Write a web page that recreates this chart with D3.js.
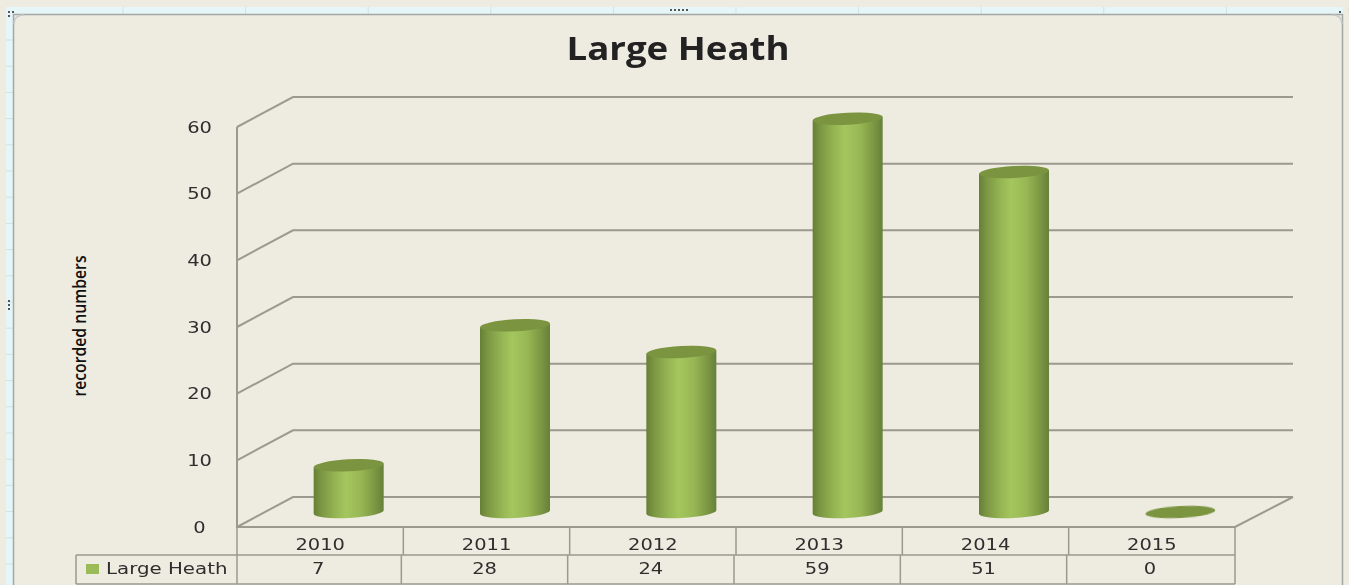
<!DOCTYPE html>
<html><head><meta charset="utf-8">
<script src="https://cdn.jsdelivr.net/npm/d3@7"></script>
<style>html,body{margin:0;padding:0;background:#eeebe0;overflow:hidden}svg{display:block}</style>
</head><body><svg id="c" width="1349" height="585"></svg>
<script>
const years = ["2010","2011","2012","2013","2014","2015"];
const counts = [7,28,24,59,51,0];
const yTicks = [0,10,20,30,40,50,60];
const seriesName = "Large Heath";
const chartTitle = "Large Heath";
const yTitle = "recorded numbers";

const W=1349,H=585;
const svg=d3.select("#c");
const beige="#eeebe0", line="#9c998e", dark="#2e2e2e";
const depth={x:56,y:-30};
const x=d3.scaleBand().domain(years).range([237,1235]);
const y=d3.scaleLinear().domain([0,60]).range([527,127]);
const rx=35, ry=6, tilt=-3, lift=rx*Math.sin(-tilt*Math.PI/180);
const midDepth={x:28.5,y:-15};
const stretch=1.18;

const defs=svg.append("defs");
const g=defs.append("linearGradient").attr("id","cyl");
[[0,"#667f36"],[0.1,"#7a9542"],[0.3,"#94b452"],[0.46,"#a4c65e"],[0.68,"#97b754"],[0.86,"#7e9944"],[1,"#66803a"]]
 .forEach(s=>g.append("stop").attr("offset",s[0]).attr("stop-color",s[1]));
const soft=defs.append("filter").attr("id","soft");
soft.append("feGaussianBlur").attr("stdDeviation",0.6);
const softT=defs.append("filter").attr("id","softT");
softT.append("feGaussianBlur").attr("stdDeviation",0.35);

// window chrome
svg.append("rect").attr("width",W).attr("height",H).attr("fill",beige);
svg.append("path").attr("d","M6,585V7H1343V14H13V585Z").attr("fill","#e6f6f8");
const chrome=svg.append("g").attr("stroke","#d6dfdf").attr("stroke-width",1);
d3.range(0,11).forEach(i=>{const v=123+i*122.6;chrome.append("line").attr("x1",v).attr("x2",v).attr("y1",7).attr("y2",14);});
d3.range(0,21).forEach(i=>{const v=40+i*26.2;chrome.append("line").attr("x1",6).attr("x2",13).attr("y1",v).attr("y2",v);});
svg.append("path").attr("d","M13.5,585V14.5H1342.5V585").attr("fill","none").attr("stroke","#a3a7a5").attr("stroke-width",1.5);
svg.append("path").attr("d","M14,24Q14,15 24,15").attr("fill","none").attr("stroke","#c6cccb").attr("stroke-width",1.5);
svg.append("path").attr("d","M1332,15Q1342,15 1342,24").attr("fill","none").attr("stroke","#c6cccb").attr("stroke-width",1.5);
const dots=svg.append("g").attr("fill","#555");
[670,674,678,682,686].forEach(v=>dots.append("rect").attr("x",v).attr("y",9).attr("width",2).attr("height",2));
[[8,11],[12,11],[8,15],[1339,11],[8,300],[8,304],[8,308]].forEach(p=>dots.append("rect").attr("x",p[0]).attr("y",p[1]).attr("width",2).attr("height",2));

// walls, gridlines
const grid=svg.append("g").attr("fill","none").attr("stroke",line).attr("stroke-width",2);
yTicks.forEach(t=>{
  grid.append("path").attr("d",d3.line()([[237,y(t)],[237+depth.x,y(t)+depth.y],[1293,y(t)+depth.y]]));
});
grid.append("path").attr("d",d3.line()([[237,y(60)],[237,y(0)],[1235,y(0)],[1293,y(0)+depth.y]]));

// cylinders
const bars=svg.append("g").attr("filter","url(#soft)");
years.forEach((yr,i)=>{
  const cx=x(yr)+x.bandwidth()/2+midDepth.x;
  const base=y(0)+midDepth.y, top=y(counts[i])+midDepth.y;
  if(counts[i]>0){
    bars.append("path")
      .attr("d",`M${cx-rx},${top+lift}L${cx-rx},${base+lift}A${rx},${ry} ${tilt} 0 0 ${cx+rx},${base-lift}L${cx+rx},${top-lift}Z`)
      .attr("fill","url(#cyl)");
  }
  bars.append("ellipse").attr("cx",cx).attr("cy",top).attr("rx",rx).attr("ry",ry)
    .attr("transform",`rotate(${tilt} ${cx} ${top})`).attr("fill","#7a9440");
});

const textStyle=sel=>sel.attr("font-family","'DejaVu Sans'").attr("font-size",16.5).attr("fill",dark).attr("filter","url(#softT)");

// y axis
const yAxis=svg.append("g").attr("transform","translate(237,0)")
  .call(d3.axisLeft(y).tickValues(yTicks).tickSize(0).tickFormat(d3.format("d")));
yAxis.select(".domain").remove();
yAxis.selectAll("text").call(textStyle).attr("x",0).attr("dy",null).attr("text-anchor","middle")
  .attr("transform",`translate(-37.5,5) scale(${stretch},1)`);

// data table
const rowTop=527,rowMid=555,rowBot=584;
const tbl=svg.append("g").attr("stroke",line).attr("stroke-width",1.5).attr("fill","none");
tbl.append("path").attr("d",`M76,${rowMid}H1235M76,${rowBot}H1235M76,${rowMid}V${rowBot}`);
x.domain().forEach((yr,i)=>{
  const v=x(yr);
  tbl.append("line").attr("x1",v).attr("x2",v).attr("y1",rowTop).attr("y2",rowMid);
  tbl.append("line").attr("x1",i?v-2:v).attr("x2",i?v-2:v).attr("y1",rowMid).attr("y2",rowBot);
});
tbl.append("line").attr("x1",1235).attr("x2",1235).attr("y1",rowTop).attr("y2",rowBot);

const xAxis=svg.append("g").attr("transform","translate(0,550)")
  .call(d3.axisBottom(x).tickSize(0).tickPadding(0));
xAxis.select(".domain").remove();
xAxis.selectAll("text").call(textStyle).attr("y",0).attr("dy",null).attr("text-anchor","middle")
  .attr("transform",`scale(${stretch},1)`);

const vals=svg.append("g");
years.forEach((yr,i)=>{
  vals.append("text").attr("text-anchor","middle").call(textStyle)
    .attr("transform",`translate(${x(yr)+x.bandwidth()/2-2},574) scale(${stretch},1)`).text(counts[i]);
});
svg.append("rect").attr("x",86).attr("y",564).attr("width",13).attr("height",10).attr("fill","#9bbb59");
svg.append("text").call(textStyle).attr("transform",`translate(106,574) scale(1.2,1)`).text(seriesName);

// titles
svg.append("text").attr("transform","translate(678,60) scale(1.11,1)").attr("text-anchor","middle")
  .attr("font-family","'Open Sans'").attr("font-weight",700).attr("font-size",33).attr("fill","#222")
  .attr("filter","url(#softT)").text(chartTitle);
svg.append("text").attr("transform","translate(86,326) rotate(-90) scale(1.05,1.15)").attr("text-anchor","middle")
  .attr("font-family","'Open Sans'").attr("font-weight",600).attr("font-size",15).attr("fill","#111").text(yTitle);
</script></body></html>
